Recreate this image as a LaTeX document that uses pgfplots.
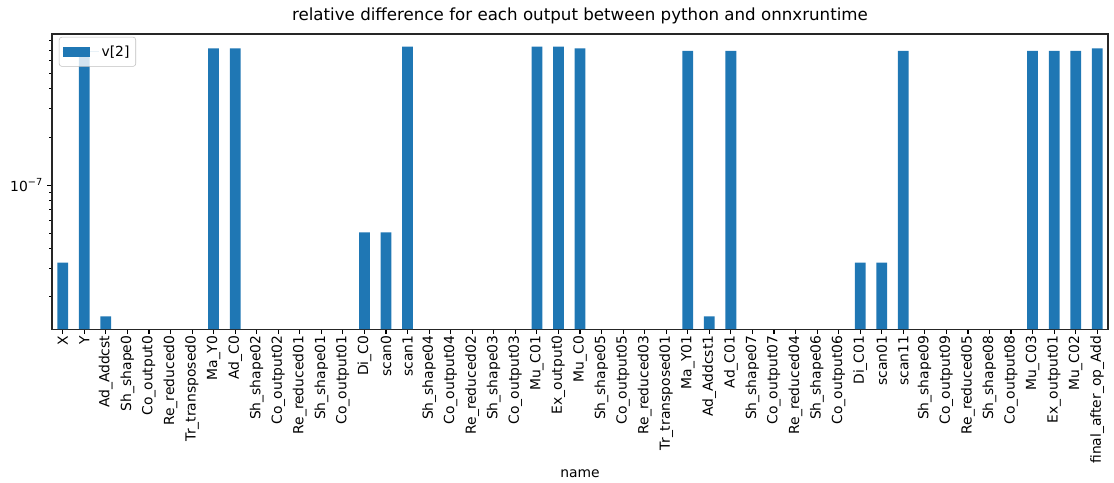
\documentclass[border=0pt]{standalone}
\usepackage{pgfplots}
\pgfplotsset{compat=1.18}
\usepackage{fontspec}
\setmainfont{DejaVu Sans}
\definecolor{c0}{HTML}{1F77B4}

\begin{document}
\begin{tikzpicture}
\begin{axis}[
    name=ax,
    scale only axis,
    width=760pt, height=212.4pt,
    ybar, bar width=0.5,
    ymode=log, log origin y=infty,
    ymin=1.256e-8, ymax=8.8e-7,
    xmin=-0.5, xmax=48.5,
    xtick={0,...,48},
    xticklabels={X,Y,Ad\_Addcst,Sh\_shape0,Co\_output0,Re\_reduced0,Tr\_transposed0,Ma\_Y0,Ad\_C0,Sh\_shape02,Co\_output02,Re\_reduced01,Sh\_shape01,Co\_output01,Di\_C0,scan0,scan1,Sh\_shape04,Co\_output04,Re\_reduced02,Sh\_shape03,Co\_output03,Mu\_C01,Ex\_output0,Mu\_C0,Sh\_shape05,Co\_output05,Re\_reduced03,Tr\_transposed01,Ma\_Y01,Ad\_Addcst1,Ad\_C01,Sh\_shape07,Co\_output07,Re\_reduced04,Sh\_shape06,Co\_output06,Di\_C01,scan01,scan11,Sh\_shape09,Co\_output09,Re\_reduced05,Sh\_shape08,Co\_output08,Mu\_C03,Ex\_output01,Mu\_C02,final\_after\_op\_Add},
    xticklabel style={rotate=90, anchor=east, font=\fontsize{10}{12}\selectfont, inner sep=1pt},
    ytick={1e-7},
    yticklabels={{10\raisebox{0.9ex}{\fontsize{7}{8}\selectfont −7}}},
    yticklabel style={font=\fontsize{10}{12}\selectfont},
    minor ytick={2e-8,3e-8,4e-8,5e-8,6e-8,7e-8,8e-8,9e-8,2e-7,3e-7,4e-7,5e-7,6e-7,7e-7,8e-7},
    tick align=outside,
    tick pos=left,
    major tick length=3.5pt,
    minor tick length=2pt,
    every tick/.style={black, line width=0.8pt},
    every minor tick/.style={black, line width=0.6pt},
    axis line style={black!85, line width=0.8pt},
    title={relative difference for each output between python and onnxruntime},
    title style={font=\fontsize{12}{14}\selectfont, yshift=-2pt},
    xlabel={name},
    xlabel style={font=\fontsize{10}{12}\selectfont},
    legend style={at={(0,1)}, anchor=north west, xshift=5pt, yshift=-2pt,
        draw=black!25, rounded corners=2pt, fill=white, fill opacity=0.8, text opacity=1,
        font=\fontsize{10}{12}\selectfont, inner xsep=2.5pt, inner ysep=4pt},
    legend image code/.code={
        \fill[fill=c0, fill opacity=1, sharp corners] (0pt,-3.5pt) rectangle (20pt,3.5pt);
        \path (0pt,0pt) -- (26pt,0pt);},
]
\addplot[fill=c0, draw=none] coordinates {
    (0,3.28e-8) (1,7.17e-7) (2,1.51e-8) (7,7.17e-7) (8,7.17e-7)
    (14,5.06e-8) (15,5.06e-8) (16,7.34e-7) (22,7.34e-7) (23,7.34e-7)
    (24,7.17e-7) (29,6.90e-7) (30,1.51e-8) (31,6.90e-7)
    (37,3.28e-8) (38,3.28e-8) (39,6.90e-7)
    (45,6.90e-7) (46,6.90e-7) (47,6.90e-7) (48,7.17e-7)
};
\addlegendentry{v[2]}
\end{axis}
\path (ax.south west) ++(-37.4pt,-110.2pt) coordinate (bl);
\path (ax.north east) ++(4.3pt,24.5pt) coordinate (tr);
\path (bl) rectangle (tr);
\end{tikzpicture}
\end{document}
